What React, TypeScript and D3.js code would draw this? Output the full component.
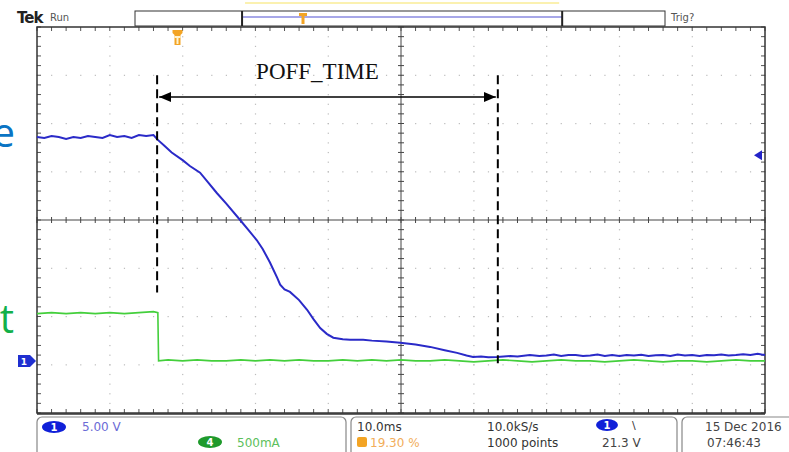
import React from 'react';
import * as d3 from 'd3';

const W = 789;
const H = 452;

// screen: 10 x 8 divisions
const plotLeft = 37;
const plotRight = 765;
const plotTop = 27;
const plotBottom = 413;

// CH1 (blue, 5 V/div) - time in ms from record start (10 ms/div)
const ch1Time = [
  0, 1, 2, 3, 4, 5, 6, 7, 8, 9, 10, 11, 12, 13, 14, 15, 16, 16.6, 17.5, 18.5,
  20, 21, 22.4, 23.5, 24.7, 26, 27.9, 29, 30.2, 31, 32, 33, 33.4, 34, 34.75, 36,
  37.1, 38, 38.9, 39.8, 40.7, 42, 43, 44.8, 46, 48, 49.9, 52, 54, 56, 57.7, 59,
  59.9, 61, 62, 63.2, 65, 66, 67.7, 69, 70, 71, 72, 73, 74, 75, 76, 77, 78, 79,
  80, 81, 82, 83, 84, 85, 86, 87, 88, 89, 90, 91, 92, 93, 94, 95, 96, 97, 98, 99, 100,
];
const ch1Volts = [
  23.2, 23.1, 23.3, 23.2, 23.0, 23.2, 23.1, 23.3, 23.2, 23.1, 23.4, 23.2, 23.3, 23.1, 23.4, 23.3, 23.4, 22.9, 22.3, 21.6,
  20.8, 20.2, 19.5, 18.5, 17.4, 16.3, 14.6, 13.6, 12.5, 11.6, 10.2, 8.6, 7.9, 7.4, 7.15, 6.3,
  5.3, 4.3, 3.4, 2.8, 2.4, 2.25, 2.2, 2.2, 2.1, 2.0, 1.87, 1.7, 1.45, 1.1, 0.83, 0.55,
  0.41, 0.45, 0.38, 0.41, 0.5, 0.45, 0.62, 0.5, 0.55, 0.65, 0.5, 0.6, 0.62, 0.5, 0.55, 0.66, 0.52, 0.6,
  0.5, 0.62, 0.55, 0.64, 0.5, 0.58, 0.6, 0.52, 0.66, 0.55, 0.6, 0.5, 0.62, 0.58, 0.66, 0.55, 0.6, 0.7, 0.62, 0.75, 0.6,
];

// CH4 (green, 500 mA/div)
const ch4Time = [
  0, 2, 4, 6, 8, 10, 12, 14, 16, 16.6, 16.7, 18, 20, 22, 24, 26, 28, 30, 32, 34, 36, 38, 40,
  42, 44, 46, 48, 50, 52, 54, 56, 58, 60, 62, 64, 66, 68, 70, 72, 74, 76, 78, 80, 82, 84,
  86, 88, 90, 92, 94, 96, 98, 100,
];
const ch4Amps = [
  0.49, 0.5, 0.49, 0.5, 0.49, 0.5, 0.49, 0.5, 0.51, 0.5, 0.0, 0.01, 0.0, 0.01, 0.0, 0.0, 0.01, 0.0, 0.01, 0.0, 0.01, 0.0, 0.0,
  0.01, 0.0, 0.01, 0.0, 0.01, 0.0, 0.0, 0.01, 0.0, -0.01, 0.0, 0.01, 0.0, -0.01, 0.0, 0.01, 0.0, 0.0, -0.01, 0.0, 0.01, 0.0,
  -0.01, 0.0, 0.0, -0.01, 0.0, 0.01, 0.0, 0.0,
];

const voltsPerDiv = 5;
const ampsPerDiv = 0.5;
const ch1Offset = -2.92; // divisions from centre
const ch4Offset = -2.92;
const triggerPct = 19.3;
const triggerLevel = 21.3;
const cursorTimes = [16.5, 63.3];
const cursorBottoms = [-1.5, -2.97]; // divisions
const recordWindow = [20.2, 80.6];
const recordMarker = 31.7;

const bottomRow1 = [
  { x: 82, text: '5.00 V', color: '#6b6bd6' },
  { x: 357, text: '10.0ms', color: '#333' },
  { x: 487, text: '10.0kS/s', color: '#333' },
  { x: 705, text: '15 Dec  2016', color: '#444' },
];
const bottomRow2 = [
  { x: 237, text: '500mA', color: '#5cc05c' },
  { x: 370, text: '19.30 %', color: '#f2ad5a' },
  { x: 487, text: '1000 points', color: '#333' },
  { x: 602, text: '21.3 V', color: '#444' },
  { x: 707, text: '07:46:43', color: '#444' },
];

const App = () => {
  const xDiv = d3.scaleLinear().domain([0, 10]).range([plotLeft, plotRight]);
  const yDiv = d3.scaleLinear().domain([-4, 4]).range([plotBottom, plotTop]);
  const xT = d3.scaleLinear().domain([0, 100]).range([plotLeft, plotRight]);
  const yCh1 = (v: number) => yDiv(v / voltsPerDiv + ch1Offset);
  const yCh4 = (a: number) => yDiv(a / ampsPerDiv + ch4Offset);
  const recBar = d3.scaleLinear().domain([0, 100]).range([135, 665]);

  const ch1Line = d3
    .line<number>()
    .x((d, i) => xT(ch1Time[i]))
    .y((d) => yCh1(d));
  const ch4Line = d3
    .line<number>()
    .x((d, i) => xT(ch4Time[i]))
    .y((d) => yCh4(d));

  const minorX = d3.range(0, 10.001, 0.2);
  const minorY = d3.range(-4, 4.001, 0.2);
  const majorX = d3.range(1, 10).filter((d) => d !== 5);
  const majorY = d3.range(-3, 4).filter((d) => d !== 0);

  const gridColor = '#bcbcbc';
  const dotsX = (y: number) =>
    minorX.map((m, i) => (
      <rect key={'dx' + y + i} x={xDiv(m) - 0.5} y={y - 0.5} width={1.2} height={1.2} fill={gridColor} />
    ));
  const dotsY = (x: number) =>
    minorY.map((m, i) => (
      <rect key={'dy' + x + i} x={x - 0.5} y={yDiv(m) - 0.5} width={1.2} height={1.2} fill={gridColor} />
    ));

  const cx = xDiv(5);
  const cy = yDiv(0);
  const trigX = xT(triggerPct);
  const trigY = yCh1(triggerLevel);
  const gndY = yCh1(0);
  const arrowY = yDiv(2.55);
  const sans = "'DejaVu Sans', Verdana, sans-serif";

  return (
    <svg
      width={W}
      height={H}
      style={{ position: 'absolute', left: 0, top: 0, background: '#fff' }}
    >
      <defs>
        <marker id="ah" viewBox="0 0 12 10" refX="12" refY="5" markerWidth="12" markerHeight="10" markerUnits="userSpaceOnUse" orient="auto-start-reverse">
          <path d="M0,0 L12,5 L0,10 z" fill="#000" />
        </marker>
      </defs>
      <rect width={W} height={H} fill="#fff" />

      {/* overlaid document text, cut at the left edge as in the source */}
      <text x={15} y={147} textAnchor="end" fontFamily="'Open Sans', sans-serif" fontSize={40} fill="#0a74c4">e</text>
      <text x={14} y={333} textAnchor="end" fontFamily="'Open Sans', sans-serif" fontSize={40} fill="#12b04a">t</text>

      {/* header */}
      <text x={17} y={23} fontFamily={sans} fontWeight="bold" fontSize={15} fill="#222" letterSpacing={-1}>Tek</text>
      <text x={50} y={21} fontFamily={sans} fontSize={10} fill="#555">Run</text>
      <text x={671} y={21} fontFamily={sans} fontSize={10} fill="#555">Trig?</text>
      <line x1={recBar(recordWindow[0]) + 3} x2={recBar(recordWindow[1]) - 3} y1={3} y2={3} stroke="#fbf1b0" strokeWidth={2} />
      <rect x={recBar(0)} y={11} width={recBar(100) - recBar(0)} height={15} fill="#fff" stroke="#333" strokeWidth={1} />
      <line x1={recBar(recordWindow[0])} x2={recBar(recordWindow[1])} y1={17} y2={17} stroke="#8a8ae0" strokeWidth={1.5} />
      <line x1={recBar(recordWindow[0])} x2={recBar(recordWindow[0])} y1={11} y2={26} stroke="#222" strokeWidth={2} />
      <line x1={recBar(recordWindow[1])} x2={recBar(recordWindow[1])} y1={11} y2={26} stroke="#222" strokeWidth={2} />
      <path
        d={`M${recBar(recordMarker) - 4},13 h8 v3 h-2.5 v8 h-3 v-8 h-2.5 z`}
        fill="#f3a424"
      />

      {/* grid */}
      {majorX.map((m) => (
        <g key={'gx' + m}>{dotsY(xDiv(m))}</g>
      ))}
      {majorY.map((m) => (
        <g key={'gy' + m}>{dotsX(yDiv(m))}</g>
      ))}

      {/* centre crosshair with ticks */}
      <line x1={plotLeft} x2={plotRight} y1={cy} y2={cy} stroke="#444" strokeWidth={1} />
      <line x1={cx} x2={cx} y1={plotTop} y2={plotBottom} stroke="#444" strokeWidth={1} />
      {minorX.map((m, i) => (
        <line key={'ctx' + i} x1={xDiv(m)} x2={xDiv(m)} y1={cy - 3} y2={cy + 3} stroke="#444" strokeWidth={1} />
      ))}
      {minorY.map((m, i) => (
        <line key={'cty' + i} x1={cx - 3} x2={cx + 3} y1={yDiv(m)} y2={yDiv(m)} stroke="#444" strokeWidth={1} />
      ))}

      {/* border ticks */}
      {minorX.map((m, i) => (
        <g key={'btx' + i}>
          <line x1={xDiv(m)} x2={xDiv(m)} y1={plotTop} y2={plotTop + 4} stroke="#555" />
          <line x1={xDiv(m)} x2={xDiv(m)} y1={plotBottom} y2={plotBottom - 4} stroke="#555" />
        </g>
      ))}
      {minorY.map((m, i) => (
        <g key={'bty' + i}>
          <line x1={plotLeft} x2={plotLeft + 4} y1={yDiv(m)} y2={yDiv(m)} stroke="#555" />
          <line x1={plotRight} x2={plotRight - 4} y1={yDiv(m)} y2={yDiv(m)} stroke="#555" />
        </g>
      ))}
      <rect x={plotLeft} y={plotTop} width={plotRight - plotLeft} height={plotBottom - plotTop} fill="none" stroke="#333" strokeWidth={1.5} />
      <line x1={plotLeft} x2={plotRight} y1={plotBottom + 1} y2={plotBottom + 1} stroke="#333" strokeWidth={1.5} />

      {/* waveforms */}
      <path d={ch4Line(ch4Amps) || ''} fill="none" stroke="#44cf3c" strokeWidth={1.6} />
      <path d={ch1Line(ch1Volts) || ''} fill="none" stroke="#2a2ac8" strokeWidth={2} />

      {/* trigger position marker */}
      <path
        d={`M${trigX - 5},30 h10 v3 l-2,2 v10 h-6 v-10 l-2,-2 z`}
        fill="#f3a424"
      />
      <path d={`M${trigX - 3},36 h6 v2 h-2 v6 h-2 v-6 h-2 z`} fill="#fff3d0" />

      {/* trigger level marker */}
      <path d={`M${plotRight - 11},${trigY} l8,-5 v10 z`} fill="#2323c8" />

      {/* CH1 ground marker */}
      <path d={`M18,${gndY - 6} h12 l6,6 l-6,6 h-12 z`} fill="#1f2fd0" />
      <text x={24} y={gndY + 4} textAnchor="middle" fontFamily={sans} fontSize={9} fontWeight="bold" fill="#fff">1</text>

      {/* POFF_TIME cursors */}
      {cursorTimes.map((t, i) => (
        <line
          key={'cur' + i}
          x1={xT(t)}
          x2={xT(t)}
          y1={yDiv(3)}
          y2={yDiv(cursorBottoms[i])}
          stroke="#000"
          strokeWidth={2}
          strokeDasharray="9,5"
        />
      ))}
      <line
        x1={xT(cursorTimes[0]) + 2}
        x2={xT(cursorTimes[1]) - 2}
        y1={arrowY}
        y2={arrowY}
        stroke="#000"
        strokeWidth={1.6}
        markerStart="url(#ah)"
        markerEnd="url(#ah)"
      />
      <text
        x={(xT(cursorTimes[0]) + xT(cursorTimes[1])) / 2 - 10}
        y={yDiv(2.92)}
        textAnchor="middle"
        fontFamily="'Liberation Serif', 'Times New Roman', serif"
        fontSize={23}
        fill="#111"
      >
        POFF_TIME
      </text>

      {/* bottom readout */}
      <rect x={37} y={417} width={309} height={40} rx={5} fill="#fff" stroke="#888" strokeWidth={1.2} />
      <rect x={351} y={417} width={326} height={40} rx={5} fill="#fff" stroke="#888" strokeWidth={1.2} />
      <rect x={682} y={417} width={115} height={40} rx={5} fill="#fff" stroke="#888" strokeWidth={1.2} />

      <ellipse cx={54} cy={427} rx={12} ry={6} fill="#1020d8" />
      <text x={54} y={431} textAnchor="middle" fontFamily={sans} fontSize={10} fontWeight="bold" fill="#fff">1</text>
      <ellipse cx={210} cy={442} rx={12} ry={6} fill="#1f9a2c" />
      <text x={210} y={446} textAnchor="middle" fontFamily={sans} fontSize={10} fontWeight="bold" fill="#fff">4</text>
      <ellipse cx={607} cy={425} rx={11} ry={6} fill="#1020d8" />
      <text x={607} y={429} textAnchor="middle" fontFamily={sans} fontSize={10} fontWeight="bold" fill="#fff">1</text>
      <text x={632} y={429} fontFamily={sans} fontSize={11} fill="#333">\</text>
      <rect x={357} y={437} width={10} height={10} rx={2} fill="#f3a424" />

      {bottomRow1.map((d) => (
        <text key={d.text} x={d.x} y={431} fontFamily={sans} fontSize={12} fill={d.color}>{d.text}</text>
      ))}
      {bottomRow2.map((d) => (
        <text key={d.text} x={d.x} y={447} fontFamily={sans} fontSize={12} fill={d.color}>{d.text}</text>
      ))}
    </svg>
  );
};

export default App;
